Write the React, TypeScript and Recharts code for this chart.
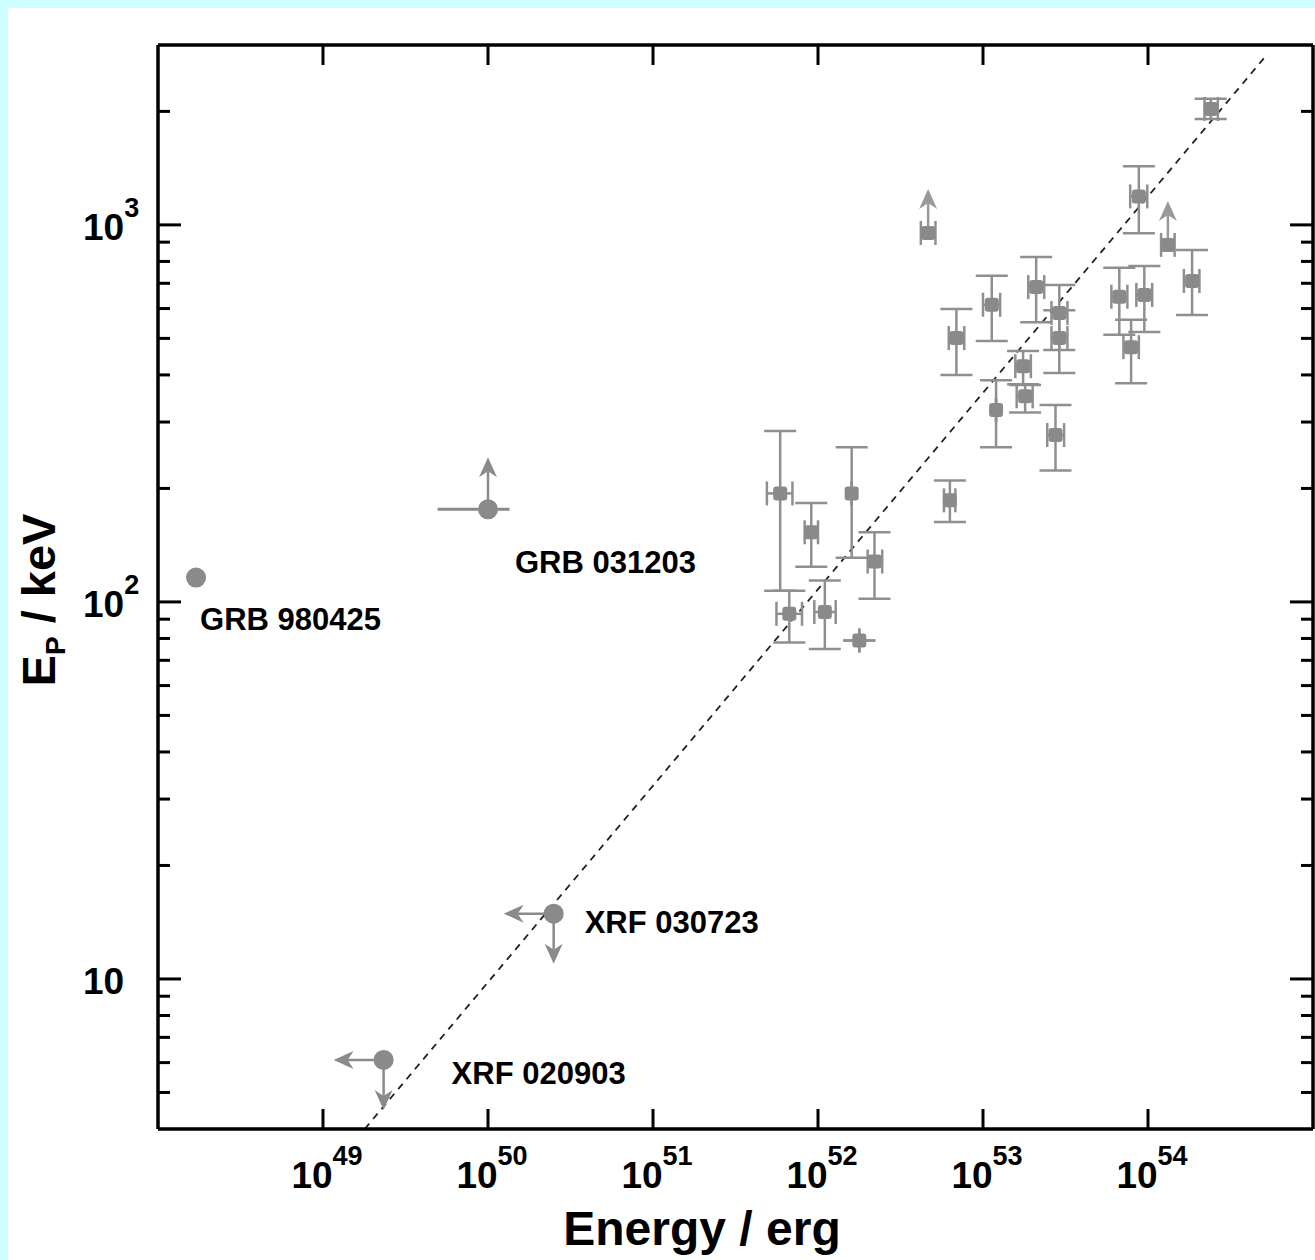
import React from "react";
import {
  ScatterChart,
  Scatter,
  XAxis,
  YAxis,
  ErrorBar,
  ReferenceLine,
} from "recharts";

// bursts with measured spectra: isotropic energy (erg) and peak energy (keV)
const burstEnergy = [
  8.8e53, 2.4e54, 1.85e54, 6.7e53, 9.5e53, 7.9e53, 2.1e53, 2.9e53, 2.9e53, 2.75e53, 1.75e53,
  1.8e53, 1.2e53, 1.13e53, 6.9e52, 6.3e52, 2.2e52, 1.6e52, 1.78e52, 1.1e52, 9.1e51, 5.9e51, 6.7e51,
];
const burstEnergyLow = [
  7.8e53, 2.2e54, 1.65e54, 6.0e53, 8.5e53, 7.1e53, 1.88e53, 2.6e53, 2.6e53, 2.45e53, 1.57e53,
  1.6e53, 1.2e53, 1.0e53, 6.2e52, 5.8e52, 2.0e52, 1.6e52, 1.78e52, 9.5e51, 8.3e51, 4.9e51, 5.6e51,
];
const burstEnergyHigh = [
  9.9e53, 2.65e54, 2.05e54, 7.5e53, 1.06e54, 8.8e53, 2.35e53, 3.25e53, 3.25e53, 3.1e53, 1.95e53,
  2.0e53, 1.2e53, 1.27e53, 7.7e52, 6.8e52, 2.45e52, 1.6e52, 1.78e52, 1.28e52, 1.0e52, 7.0e51, 8.0e51,
];
const burstPeak = [
  1190, 2030, 710, 645, 652, 474, 684, 584, 501, 277, 422,
  351, 323, 614, 501, 186, 128, 194, 79, 94, 153, 194, 93,
];
const burstPeakLow = [
  950, 1910, 577, 511, 520, 380, 552, 466, 405, 223, 378,
  318, 257, 492, 400, 163, 102, 131, 79, 75, 124, 107, 78,
];
const burstPeakHigh = [
  1430, 2160, 858, 770, 778, 560, 822, 693, 594, 333, 463,
  376, 387, 733, 598, 210, 153, 257, 79, 114, 183, 284, 107,
];

// bursts where only a lower limit on the peak energy is known
const limitEnergy = [4.65e52, 1.32e54];
const limitEnergyLow = [4.2e52, 1.2e54];
const limitEnergyHigh = [5.15e52, 1.45e54];
const limitPeak = [952, 885];

// named low-energy events
const namedEvents = ["GRB 980425", "GRB 031203", "XRF 030723", "XRF 020903"];
const namedEnergy = [1.7e48, 1.0e50, 2.5e50, 2.33e49];
const namedEnergyLow = [1.7e48, 4.95e49, 2.5e50, 2.33e49];
const namedEnergyHigh = [1.7e48, 1.35e50, 2.5e50, 2.33e49];
const namedPeak = [116, 176, 14.9, 6.1];
const namedPeakLimit = [null, "lower", "upper", "upper"];
const namedEnergyLimit = [null, null, "upper", "upper"];

// best-fit relation, drawn between its two ends
const fitEnergy = [1.79e49, 5.24e54];
const fitPeak = [4, 2823];

const energyTicks = [1e49, 1e50, 1e51, 1e52, 1e53, 1e54];
const peakTicks = [
  5, 6, 7, 8, 9, 10, 20, 30, 40, 50, 60, 70, 80, 90, 100, 200, 300, 400, 500, 600, 700, 800, 900,
  1000, 2000,
];

const W = 1307;
const H = 1252;
const PLOT_LEFT = 150;
const PLOT_RIGHT = 1305;
const PLOT_TOP = 37;
const PLOT_BOTTOM = 1121;
const FONT = "'Liberation Sans', Arial, sans-serif";
const GREY = "#8a8a8a";
const BAR = "#8f8f8f";

const LABEL_OFFSET: Record<string, [number, number]> = {
  "GRB 980425": [4, 52],
  "GRB 031203": [27, 64],
  "XRF 030723": [31, 19],
  "XRF 020903": [68, 24],
};

const bursts = burstEnergy.map((e, i) => ({
  e,
  ep: burstPeak[i],
  eErr: [e - burstEnergyLow[i], burstEnergyHigh[i] - e],
  epErr: [burstPeak[i] - burstPeakLow[i], burstPeakHigh[i] - burstPeak[i]],
}));

const limits = limitEnergy.map((e, i) => ({
  e,
  ep: limitPeak[i],
  eErr: [e - limitEnergyLow[i], limitEnergyHigh[i] - e],
}));

const named = namedEvents.map((name, i) => ({
  name,
  e: namedEnergy[i],
  ep: namedPeak[i],
  eErr: [namedEnergy[i] - namedEnergyLow[i], namedEnergyHigh[i] - namedEnergy[i]],
  epLimit: namedPeakLimit[i],
  eLimit: namedEnergyLimit[i],
}));

const isDecade = (v: number) => Math.abs(Math.log10(v) - Math.round(Math.log10(v))) < 1e-9;

// shaft plus a notched arrow head, pointing along (dx, dy)
function Arrow({ x, y, dx, dy, len, color }: any) {
  const tx = x + dx * len;
  const ty = y + dy * len;
  const hx = -dx;
  const hy = -dy;
  const px = -hy;
  const py = hx;
  const head = 20;
  const half = 9;
  const bx = tx + hx * head;
  const by = ty + hy * head;
  return (
    <g>
      <line x1={x} y1={y} x2={bx - hx * 6} y2={by - hy * 6} stroke={color} strokeWidth={2.5} />
      <polygon
        points={`${tx},${ty} ${bx + px * half},${by + py * half} ${tx + hx * (head - 6)},${ty + hy * (head - 6)} ${bx - px * half},${by - py * half}`}
        fill={color}
      />
    </g>
  );
}

function BurstMarker({ cx, cy }: any) {
  return <rect x={cx - 7} y={cy - 7} width={14} height={14} rx={3} fill={GREY} />;
}

function LimitMarker({ cx, cy }: any) {
  return (
    <g>
      <Arrow x={cx} y={cy - 6} dx={0} dy={-1} len={38} color="#999" />
      <rect x={cx - 7} y={cy - 7} width={14} height={14} rx={3} fill={GREY} />
    </g>
  );
}

function NamedMarker({ cx, cy, payload }: any) {
  const [ox, oy] = LABEL_OFFSET[payload.name];
  return (
    <g>
      {payload.epLimit === "lower" && <Arrow x={cx} y={cy} dx={0} dy={-1} len={52} color={GREY} />}
      {payload.epLimit === "upper" && <Arrow x={cx} y={cy} dx={0} dy={1} len={50} color={GREY} />}
      {payload.eLimit === "upper" && <Arrow x={cx} y={cy} dx={-1} dy={0} len={50} color={GREY} />}
      <circle cx={cx} cy={cy} r={10} fill={GREY} />
      <text
        x={cx + ox}
        y={cy + oy}
        fontFamily={FONT}
        fontWeight="bold"
        fontSize={31}
        fill="#000"
      >
        {payload.name}
      </text>
    </g>
  );
}

function PowerText({ x, y, exp, anchor }: any) {
  return (
    <text x={x} y={y} fontFamily={FONT} fontWeight="bold" fontSize={37} fill="#000" textAnchor={anchor}>
      10
      {exp !== undefined && (
        <tspan dy={-23} fontSize={27}>
          {exp}
        </tspan>
      )}
    </text>
  );
}

function BottomTick({ x, payload }: any) {
  const exp = Math.round(Math.log10(payload.value));
  return (
    <g>
      <line x1={x} x2={x} y1={PLOT_BOTTOM} y2={PLOT_BOTTOM - 20} stroke="#000" strokeWidth={3} />
      <PowerText x={x + 4} y={PLOT_BOTTOM + 59} exp={exp} anchor="middle" />
    </g>
  );
}

function TopTick({ x }: any) {
  return <line x1={x} x2={x} y1={PLOT_TOP} y2={PLOT_TOP + 20} stroke="#000" strokeWidth={3} />;
}

function LeftTick({ y, payload }: any) {
  const major = isDecade(payload.value);
  const exp = Math.round(Math.log10(payload.value));
  return (
    <g>
      <line x1={PLOT_LEFT} x2={PLOT_LEFT + (major ? 23 : 12)} y1={y} y2={y} stroke="#000" strokeWidth={3} />
      {major && <PowerText x={75} y={y + 15} exp={exp > 1 ? exp : undefined} anchor="start" />}
    </g>
  );
}

function RightTick({ y, payload }: any) {
  const major = isDecade(payload.value);
  return (
    <line x1={PLOT_RIGHT} x2={PLOT_RIGHT - (major ? 23 : 12)} y1={y} y2={y} stroke="#000" strokeWidth={3} />
  );
}

export default function App() {
  const axisLine = { stroke: "#000", strokeWidth: 3.5 };
  return (
    <div style={{ position: "fixed", inset: 0, background: "#ccffff", overflow: "hidden" }}>
      <div style={{ position: "absolute", left: 8, top: 8, width: W, height: H, background: "#fff" }}>
        <ScatterChart
          width={W}
          height={H}
          margin={{ top: PLOT_TOP - 1, right: W - PLOT_RIGHT - 1, bottom: 0, left: 0 }}
        >
          <XAxis
            type="number"
            dataKey="e"
            scale="log"
            domain={[1e48, 1e55]}
            allowDataOverflow
            ticks={energyTicks}
            interval={0}
            height={H - PLOT_BOTTOM}
            axisLine={axisLine}
            tickLine={false}
            tickSize={0}
            tick={<BottomTick />}
          />
          <XAxis
            xAxisId="top"
            orientation="top"
            type="number"
            dataKey="e"
            scale="log"
            domain={[1e48, 1e55]}
            allowDataOverflow
            ticks={energyTicks}
            interval={0}
            height={1}
            axisLine={axisLine}
            tickLine={false}
            tickSize={0}
            tick={<TopTick />}
          />
          <YAxis
            type="number"
            dataKey="ep"
            scale="log"
            domain={[4, 3000]}
            allowDataOverflow
            ticks={peakTicks}
            interval={0}
            width={PLOT_LEFT}
            axisLine={axisLine}
            tickLine={false}
            tickSize={0}
            tick={<LeftTick />}
            label={{
              content: () => (
                <text
                  x={47}
                  y={592}
                  transform="rotate(-90 47 592)"
                  textAnchor="middle"
                  fontFamily={FONT}
                  fontWeight="bold"
                  fontSize={47}
                  fill="#000"
                >
                  E
                  <tspan dy={10} fontSize={28}>
                    P
                  </tspan>
                  <tspan dy={-10}> / keV</tspan>
                </text>
              ),
            }}
          />
          <YAxis
            yAxisId="right"
            orientation="right"
            type="number"
            dataKey="ep"
            scale="log"
            domain={[4, 3000]}
            allowDataOverflow
            ticks={peakTicks}
            interval={0}
            width={1}
            axisLine={axisLine}
            tickLine={false}
            tickSize={0}
            tick={<RightTick />}
          />
          <ReferenceLine
            segment={[
              { x: fitEnergy[0], y: fitPeak[0] },
              { x: fitEnergy[1], y: fitPeak[1] },
            ]}
            stroke="#222"
            strokeWidth={1.8}
            strokeDasharray="7 6"
            ifOverflow="visible"
          />
          {/* invisible copy of the named events so the top/right frame axes have a series */}
          <Scatter
            data={named}
            xAxisId="top"
            yAxisId="right"
            shape={() => <g />}
            isAnimationActive={false}
          />
          <Scatter data={bursts} shape={<BurstMarker />} isAnimationActive={false}>
            <ErrorBar dataKey="epErr" direction="y" width={16} stroke={BAR} strokeWidth={2.5} isAnimationActive={false} />
            <ErrorBar dataKey="eErr" direction="x" width={12} stroke={BAR} strokeWidth={2.5} isAnimationActive={false} />
          </Scatter>
          <Scatter data={limits} shape={<LimitMarker />} isAnimationActive={false}>
            <ErrorBar dataKey="eErr" direction="x" width={12} stroke={BAR} strokeWidth={2.5} isAnimationActive={false} />
          </Scatter>
          <Scatter data={named} shape={<NamedMarker />} isAnimationActive={false}>
            <ErrorBar dataKey="eErr" direction="x" width={0} stroke={GREY} strokeWidth={3} isAnimationActive={false} />
          </Scatter>
          <text
            x={694}
            y={1237}
            textAnchor="middle"
            fontFamily={FONT}
            fontWeight="bold"
            fontSize={48}
            fill="#000"
          >
            Energy / erg
          </text>
        </ScatterChart>
      </div>
    </div>
  );
}
